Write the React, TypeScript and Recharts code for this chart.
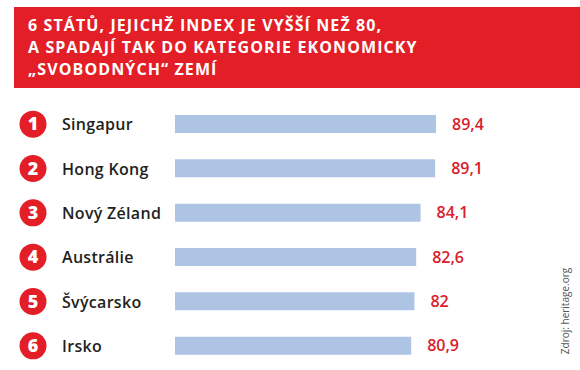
import React from "react";
import { BarChart, Bar, XAxis, YAxis, LabelList } from "recharts";

const ranks = [1, 2, 3, 4, 5, 6];
const countries = ["Singapur", "Hong Kong", "Nový Zéland", "Austrálie", "Švýcarsko", "Irsko"];
const indexValues = [89.4, 89.1, 84.1, 82.6, 82, 80.9];

const titleLines = [
  "6 STÁTŮ, JEJICHŽ INDEX JE VYŠŠÍ NEŽ 80,",
  "A SPADAJÍ TAK DO KATEGORIE EKONOMICKY",
  "„SVOBODNÝCH“ ZEMÍ",
];
const sourceText = "Zdroj: heritage.org";

const data = countries.map((c, i) => ({ name: c, rank: ranks[i], value: indexValues[i] }));

const FONT = "'Open Sans', 'Noto Sans', sans-serif";
const RED = "#e31e26";

const CountryTick = (props: any) => {
  const { y, payload, index } = props;
  const rank = ranks[index] ?? index + 1;
  return (
    <g>
      <circle cx={33} cy={y} r={13.5} fill={RED} />
      <text x={33} y={y} dy={6} textAnchor="middle" fill="#fff" fontSize={18} fontWeight={800} fontFamily={FONT}>
        {rank}
      </text>
      <text x={62} y={y} dy={6} textAnchor="start" fill="#231f20" fontSize={16} fontWeight={600} fontFamily={FONT} letterSpacing={0.3}>
        {payload.value}
      </text>
    </g>
  );
};

export default function App() {
  return (
    <div style={{ position: "absolute", left: 0, top: 0, width: 580, height: 370, background: "#fff", overflow: "hidden" }}>
      <div
        style={{
          position: "absolute",
          left: 14,
          top: 7,
          width: 566,
          height: 81,
          background: RED,
        }}
      >
        <div
          style={{
            position: "absolute",
            left: 14,
            top: 7,
            color: "#fff",
            fontFamily: FONT,
            fontWeight: 700,
            fontSize: 16,
            lineHeight: "22px",
            letterSpacing: "1.1px",
            whiteSpace: "nowrap",
          }}
        >
          {titleLines.map((l, i) => (
            <div key={i}>{l}</div>
          ))}
        </div>
      </div>
      <div style={{ position: "absolute", left: 0, top: 0 }}>
        <BarChart
          width={580}
          height={370}
          data={data}
          layout="vertical"
          margin={{ top: 102, right: 113, bottom: 2, left: 0 }}
          barCategoryGap={0}
        >
          <XAxis type="number" domain={[0, 100]} hide />
          <YAxis
            type="category"
            dataKey="name"
            width={175}
            axisLine={false}
            tickLine={false}
            tick={<CountryTick />}
            interval={0}
          />
          <Bar dataKey="value" fill="#aec4e5" barSize={18} isAnimationActive={false}>
            <LabelList
              dataKey="value"
              position="right"
              offset={16}
              fill="#d9202c"
              fontSize={16}
              fontWeight={600}
              fontFamily={FONT}
              formatter={(v: any) => String(v).replace(".", ",")}
            />
          </Bar>
        </BarChart>
      </div>
      <div
        style={{
          position: "absolute",
          left: 565,
          top: 311,
          transform: "translate(-50%, -50%) rotate(-90deg)",
          fontFamily: FONT,
          fontSize: 10,
          color: "#555",
          whiteSpace: "nowrap",
        }}
      >
        {sourceText}
      </div>
    </div>
  );
}
